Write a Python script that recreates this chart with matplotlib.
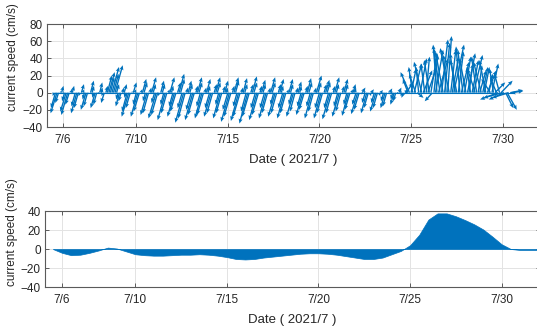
import numpy as np
import matplotlib
matplotlib.use('Agg')
import matplotlib.pyplot as plt

plt.rcParams['font.family'] = ['Liberation Sans', 'DejaVu Sans']

# ---- raw current vectors (2-hourly, cm/s), one row per day ----
t_start = 5.5        # 2021/7/5 12:00
dt_raw = 1.0 / 12    # 2 hours

v_raw = [
    [-4, -18, -24, -12, 2, 8],
    [2, -10, -22, -26, -14, 4, 8, -2, -16, -24, -18, -4],
    [10, 4, -8, -20, -16, -2, 14, 8, -6, -18, -14, 0],
    [12, 6, -4, -12, 8, 20, 24, 18, 30, 22, 32, 10],
    [-8, -16, -10, 6, 10, -6, -22, -28, -18, 2, 12, 4],
    [-14, -28, -22, 4, 16, 12, -10, -26, -24, 6, 18, 10],
    [-12, -30, -26, -4, 14, 10, -14, -32, -24, 4, 18, 8],
    [-16, -28, -22, 12, 22, 16, -18, -35, -30, 6, 14, 10],
    [-20, -32, -26, 8, 18, 12, -16, -30, -26, 6, 16, 8],
    [-18, -28, -24, 10, 18, 12, -14, -30, -24, 8, 14, 6],
    [-20, -34, -28, 8, 18, 14, -16, -33, -28, 6, 17, 10],
    [-22, -36, -28, 10, 19, 12, -18, -32, -26, 8, 15, 10],
    [-18, -30, -24, 6, 18, 12, -14, -28, -24, 10, 16, 8],
    [-18, -30, -24, 4, 16, 10, -14, -28, -22, 6, 13, 8],
    [-16, -26, -20, 8, 17, 12, -16, -30, -22, 6, 20, 12],
    [-18, -30, -24, 10, 15, 12, -18, -31, -24, 8, 18, 10],
    [-16, -28, -22, 8, 16, 10, -14, -27, -20, 4, 10, 6],
    [-14, -25, -20, -2, 6, 2, -12, -24, -18, -4, 4, 0],
    [-12, -22, -18, -4, 3, 0, -10, -18, -16, -2, 5, 2],
    [-8, -14, -10, 0, 6, 2, -4, -6, 4, 12, 16, 24],
    [28, 30, 34, 22, -6, 30, 40, 36, 26, 34, 42, 30],
    [38, 46, -10, 44, 50, 56, 40, 52, 62, 48, 58, 44],
    [66, 52, 50, 42, 56, 46, 38, 48, 54, 36, 50, 42],
    [40, 46, 34, 30, 38, 44, 28, 42, 32, 26, 36, 30],
    [30, 38, 26, 22, 16, 34, 28, 12, 18, -8, 22, 14],
    [-6, -8, -18, -20, -6, 3, 2, -2],
]
u_raw = [
    [-2, -7, -10, -5, 1, 3],
    [1, -4, -9, -10, -6, 2, 3, -1, -6, -9, -7, -2],
    [4, 2, -3, -8, -6, -1, 5, 3, -2, -7, -5, 0],
    [4, 2, -2, -5, 3, 7, 9, 6, 11, 8, 12, 4],
    [-3, -6, -4, 2, 4, -2, -8, -11, -7, 1, 5, 2],
    [-5, -11, -9, 2, 6, 5, -4, -10, -9, 2, 7, 4],
    [-5, -12, -10, -2, 5, 4, -5, -12, -9, 2, 7, 3],
    [-6, -11, -9, 5, 8, 6, -7, -13, -11, 2, 5, 4],
    [-8, -12, -10, 3, 7, 5, -6, -11, -10, 2, 6, 3],
    [-7, -11, -9, 4, 7, 5, -5, -11, -9, 3, 5, 2],
    [-8, -13, -11, 3, 7, 5, -6, -12, -11, 2, 6, 4],
    [-8, -13, -11, 4, 7, 5, -7, -12, -10, 3, 6, 4],
    [-7, -11, -9, 2, 7, 5, -5, -11, -9, 4, 6, 3],
    [-7, -11, -9, 2, 6, 4, -5, -11, -8, 2, 5, 3],
    [-6, -10, -8, 3, 6, 5, -6, -11, -8, 2, 8, 5],
    [-7, -11, -9, 4, 6, 5, -7, -12, -9, 3, 7, 4],
    [-6, -11, -8, 3, 6, 4, -5, -10, -8, 2, 4, 2],
    [-6, -10, -8, 2, 5, 3, -5, -9, -7, 2, 4, 2],
    [-5, -9, -7, 2, 4, 2, -4, -7, -6, 2, 4, 2],
    [-3, -6, -4, 1, 4, 2, -2, -3, 6, 10, -8, -14],
    [8, -6, 12, -10, 10, -4, 10, -12, 14, -6, 5, 14],
    [-8, 10, -12, 6, 12, -6, 15, -10, 10, -12, 8, -4],
    [6, -14, 8, 10, 16, -8, -10, 8, -6, 12, -8, 10],
    [-10, 12, 6, -6, 10, 14, -12, -8, 6, 10, -12, 8],
    [8, -10, 14, 6, -14, 10, -6, 16, -10, -28, -8, 18],
    [-30, -24, 12, 15, -26, 20, 18, 4],
]

# ---- low-pass current (12-hourly, cm/s) ----
t_low_start = 5.5
dt_low = 0.5
v_low = [0, -4, -6.5, -6, -4, -1.5, 1.5, 0.5, -2.5, -5.5,
         -6.5, -7, -7, -6.5, -6, -6, -5.5, -6, -7, -8.5,
         -10.5, -11, -10.5, -9, -8, -7, -6, -5, -4.5, -4.5,
         -5, -6, -7.5, -9, -10.5, -10.5, -9, -5.5, -2, 4,
         15, 31, 37.5, 37.5, 34.5, 30.5, 26, 20.5, 13, 5,
         0, -1, -1, -1, -0.5]

tick_days = [6, 10, 15, 20, 25, 30]
tick_labels = ['7/6', '7/10', '7/15', '7/20', '7/25', '7/30']

blue = '#0072BD'
grid_c = '#e3e3e3'
axis_c = '#5a5a5a'
text_c = '#262626'

v_all = np.concatenate([np.array(r, dtype=float) for r in v_raw])
u_all = np.concatenate([np.array(r, dtype=float) for r in u_raw])
t_all = t_start + dt_raw * np.arange(len(v_all))
t_low = t_low_start + dt_low * np.arange(len(v_low))

# horizontal drawing scale of the east component (days per cm/s)
x_scale = 0.035

fig = plt.figure(figsize=(5.37, 3.31), dpi=100)
ax1 = fig.add_axes([0.0875, 0.6163, 0.918, 0.311])
ax2 = fig.add_axes([0.0838, 0.1329, 0.922, 0.2296])


def style(ax, ylim, yticks, xlim, ylab_x, ylab_y):
    ax.set_xlim(*xlim)
    ax.set_ylim(*ylim)
    ax.set_yticks(yticks)
    ax.set_xticks(tick_days)
    ax.set_xticklabels(tick_labels)
    ax.grid(True, color=grid_c, lw=0.7)
    ax.set_axisbelow(True)
    ax.tick_params(direction='in', top=True, right=True, length=3,
                   width=0.7, colors=axis_c, labelcolor=text_c, labelsize=8.5)
    ax.tick_params(axis='y', pad=3)
    ax.tick_params(axis='x', pad=5)
    for s in ax.spines.values():
        s.set_color(axis_c)
        s.set_linewidth(0.8)
    ax.set_xlabel('Date ( 2021/7 )', fontsize=9.5, color=text_c, labelpad=6)
    ax.set_ylabel('current speed (cm/s)', fontsize=8.5, color=text_c)
    ax.yaxis.set_label_coords(ylab_x, ylab_y)


# top: raw vectors
ax1.plot([t_all[0], t_all[-1]], [0, 0], color=blue, lw=0.8)
ax1.quiver(t_all, np.zeros_like(t_all), u_all * x_scale, v_all,
           angles='xy', scale_units='xy', scale=1, color=blue,
           width=0.0028, headwidth=3, headlength=3.5, headaxislength=3)
style(ax1, (-40, 80), [-40, -20, 0, 20, 40, 60, 80], (5.12, 32.04),
      -0.057, 0.68)

# bottom: low-pass sticks
ax2.fill_between(t_low, 0, v_low, color=blue, lw=0.5, edgecolor=blue)
style(ax2, (-40, 40), [-40, -20, 0, 20, 40], (5.07, 32.1), -0.055, 0.72)

fig.savefig('out.png', dpi=100)
